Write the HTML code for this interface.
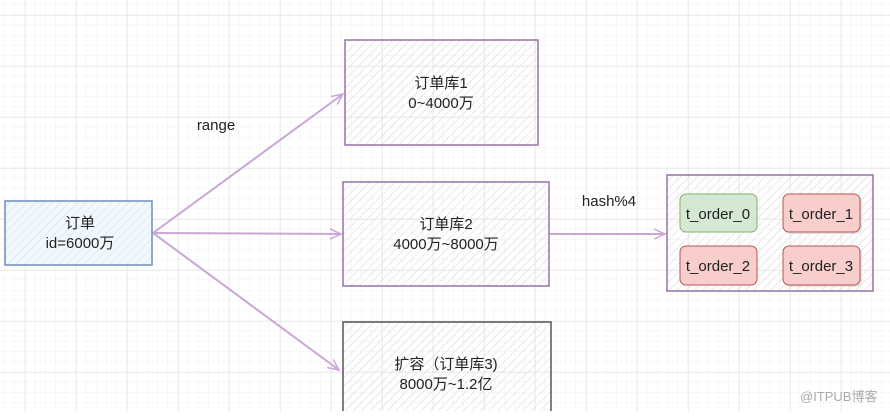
<!DOCTYPE html>
<html><head><meta charset="utf-8"><style>
body{margin:0;width:890px;height:411px;overflow:hidden;background:#fff;font-family:"Liberation Sans","Noto Sans CJK SC",sans-serif;}
</style></head><body>
<svg width="890" height="411" xmlns="http://www.w3.org/2000/svg" font-family="Liberation Sans, Noto Sans CJK SC, sans-serif">
<defs>
<pattern id="g" width="10.2" height="10.2" patternUnits="userSpaceOnUse" x="4.6" y="4.8"><path d="M10.2 0V10.2M0 10.2H10.2" stroke="#f0f0f0" stroke-width="1" fill="none"/></pattern>
<pattern id="G" width="51" height="51" patternUnits="userSpaceOnUse" x="25" y="15"><path d="M0 0V51M0 0H51" stroke="#dedede" stroke-width="1" fill="none"/></pattern>
<pattern id="h" width="6" height="6" patternUnits="userSpaceOnUse" patternTransform="rotate(45)"><line x1="0" y1="0" x2="0" y2="6" stroke="#d6d6d6" stroke-width="1"/></pattern>
<pattern id="hb" width="6" height="6" patternUnits="userSpaceOnUse" patternTransform="rotate(45)"><line x1="0" y1="0" x2="0" y2="6" stroke="#c8dbf0" stroke-width="1"/></pattern>
<marker id="a" markerWidth="14" markerHeight="12" refX="12" refY="6" orient="auto" markerUnits="userSpaceOnUse"><path d="M1 1L12 6L1 11" fill="none" stroke="#c9a6d6" stroke-width="1.5"/></marker>
</defs>
<rect width="890" height="411" fill="url(#g)"/>
<rect width="890" height="411" fill="url(#G)"/>
<g stroke="#c9a6d6" stroke-width="2" fill="none" marker-end="url(#a)">
<line x1="153" y1="233" x2="343" y2="94"/>
<line x1="153" y1="233" x2="341" y2="234"/>
<line x1="153" y1="233" x2="339" y2="370"/>
<line x1="550" y1="234" x2="665" y2="234"/>
</g>
<rect x="5" y="201" width="147" height="64" fill="#f3f8fd"/><rect x="5" y="201" width="147" height="64" fill="url(#hb)" stroke="#6c8ebf" stroke-width="1.5"/>
<rect x="345" y="40" width="193" height="105" fill="url(#h)" stroke="#9673a6" stroke-width="1.5"/>
<rect x="343" y="182" width="206" height="104" fill="url(#h)" stroke="#9673a6" stroke-width="1.5"/>
<rect x="343" y="322" width="208" height="95" fill="url(#h)" stroke="#555" stroke-width="1.5"/>
<rect x="667" y="175" width="206" height="116" fill="url(#h)" stroke="#9673a6" stroke-width="1.5"/>
<rect x="680" y="194" width="77" height="38" rx="6" fill="#d5e8d4" stroke="#82b366"/>
<rect x="785" y="196" width="77" height="38" rx="6" fill="#ccc" opacity="0.5"/>
<rect x="783" y="194" width="77" height="38" rx="6" fill="#f8cecc" stroke="#b85450"/>
<rect x="680" y="246" width="77" height="39" rx="6" fill="#f8cecc" stroke="#b85450"/>
<rect x="785" y="248" width="77" height="39" rx="6" fill="#ccc" opacity="0.5"/>
<rect x="783" y="246" width="77" height="39" rx="6" fill="#f8cecc" stroke="#b85450"/>
<g font-size="15" fill="#222" text-anchor="middle">
<text x="80" y="228">订单</text><text x="80" y="248">id=6000万</text>
<text x="441" y="88">订单库1</text><text x="441" y="108">0~4000万</text>
<text x="446" y="229">订单库2</text><text x="446" y="249">4000万~8000万</text>
<text x="446" y="369">扩容（订单库3)</text><text x="446" y="389">8000万~1.2亿</text>
<text x="216" y="130">range</text><text x="609" y="206">hash%4</text>
<text x="718" y="219">t_order_0</text><text x="821" y="219">t_order_1</text>
<text x="718" y="271">t_order_2</text><text x="821" y="271">t_order_3</text>
</g>
<text x="800" y="401" font-size="13" fill="#aaa">@ITPUB博客</text>
</svg>
</body></html>
